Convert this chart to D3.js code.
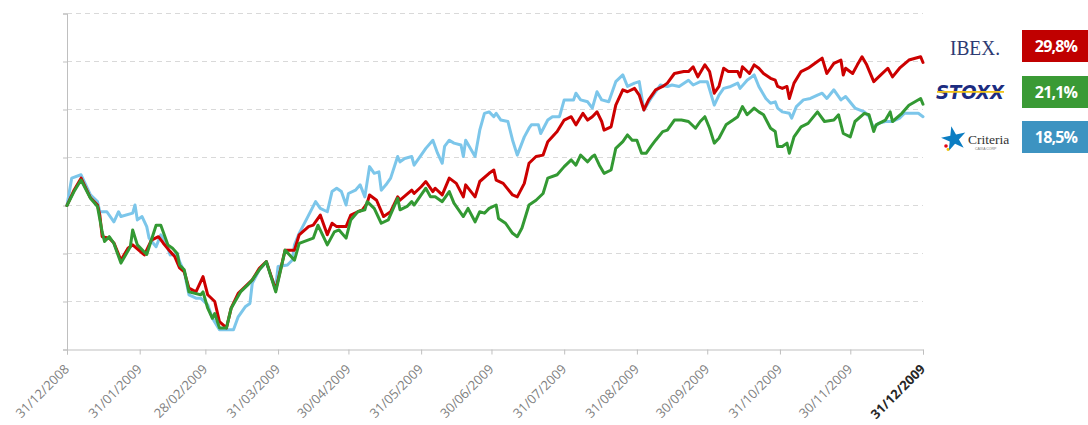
<!DOCTYPE html>
<html>
<head>
<meta charset="utf-8">
<script src="https://cdn.jsdelivr.net/npm/d3@7"></script>
<style>
  body { margin: 0; background: #fff; }
  svg { display: block; }
</style>
</head>
<body>
<svg id="chart" width="1088" height="425"></svg>
<script>
// chart layout
const W = 1088, H = 425;
const plot = {left: 67, right: 923, top: 13.5, bottom: 349.5};

// x axis tick dates (month ends)
const tickLabels = ["31/12/2008", "31/01/2009", "28/02/2009", "31/03/2009", "30/04/2009",
  "31/05/2009", "30/06/2009", "31/07/2009", "31/08/2009", "30/09/2009",
  "31/10/2009", "30/11/2009", "31/12/2009"];
const yTicks = [70, 80, 90, 100, 110, 120, 130, 140];

// legend
const legendNames = ["IBEX", "STOXX", "Criteria"];
const legendValues = ["29,8%", "21,1%", "18,5%"];

// series, base 100 at 31/12/2008
const ibex = [
  ["2008-12-31",100.0],["2009-01-03",103.2],["2009-01-06",105.7],["2009-01-10",101.6],["2009-01-13",100.1],
  ["2009-01-14",98.0],["2009-01-15",93.5],["2009-01-18",93.2],["2009-01-20",92.2],["2009-01-23",88.6],
  ["2009-01-26",91.1],["2009-01-28",91.8],["2009-02-02",89.7],["2009-02-05",92.8],["2009-02-08",93.5],
  ["2009-02-10",92.2],["2009-02-13",90.4],["2009-02-15",89.3],["2009-02-17",87.0],["2009-02-19",86.2],
  ["2009-02-21",82.8],["2009-02-24",82.0],["2009-02-27",85.2],["2009-03-01",81.4],["2009-03-04",80.0],
  ["2009-03-06",75.8],["2009-03-09",74.5],["2009-03-11",78.6],["2009-03-14",81.7],["2009-03-17",83.1],
  ["2009-03-20",84.5],["2009-03-23",86.9],["2009-03-26",88.3],["2009-03-30",82.4],["2009-04-03",90.7],
  ["2009-04-07",90.7],["2009-04-09",93.9],["2009-04-13",95.6],["2009-04-15",95.9],["2009-04-18",98.0],
  ["2009-04-21",93.9],["2009-04-23",96.3],["2009-04-25",95.6],["2009-04-29",95.6],["2009-05-01",98.0],
  ["2009-05-04",98.7],["2009-05-06",99.1],["2009-05-08",100.5],["2009-05-09",102.2],["2009-05-12",101.1],
  ["2009-05-15",97.7],["2009-05-18",98.7],["2009-05-21",101.8],["2009-05-22",101.1],["2009-05-27",103.2],
  ["2009-05-28",102.5],["2009-05-31",103.9],["2009-06-02",105.0],["2009-06-05",102.9],["2009-06-06",103.6],
  ["2009-06-09",102.2],["2009-06-12",105.7],["2009-06-15",104.6],["2009-06-18",101.8],["2009-06-19",104.3],
  ["2009-06-23",101.8],["2009-06-25",105.0],["2009-06-29",106.7],["2009-07-01",107.4],["2009-07-02",105.3],
  ["2009-07-05",104.6],["2009-07-09",102.2],["2009-07-11",101.8],["2009-07-14",104.6],["2009-07-16",108.8],
  ["2009-07-19",110.2],["2009-07-22",110.5],["2009-07-24",113.3],["2009-07-28",115.4],["2009-07-31",117.8],
  ["2009-08-03",118.5],["2009-08-05",116.8],["2009-08-08",119.2],["2009-08-10",117.8],["2009-08-12",118.5],
  ["2009-08-14",119.5],["2009-08-16",117.5],["2009-08-17",115.7],["2009-08-20",116.4],["2009-08-22",120.9],
  ["2009-08-25",124.1],["2009-08-27",123.7],["2009-08-30",124.4],["2009-09-01",123.0],["2009-09-03",119.9],
  ["2009-09-05",122.0],["2009-09-08",124.1],["2009-09-11",124.8],["2009-09-13",125.5],["2009-09-16",127.5],
  ["2009-09-20",127.9],["2009-09-22",127.9],["2009-09-24",128.9],["2009-09-26",126.8],["2009-09-29",129.3],
  ["2009-10-01",127.9],["2009-10-03",123.4],["2009-10-05",124.8],["2009-10-07",128.6],["2009-10-09",127.9],
  ["2009-10-13",127.9],["2009-10-14",126.8],["2009-10-15",128.9],["2009-10-18",127.5],["2009-10-20",129.3],
  ["2009-10-22",128.6],["2009-10-24",127.5],["2009-10-27",126.5],["2009-10-29",126.1],["2009-10-30",124.8],
  ["2009-11-01",124.4],["2009-11-03",124.8],["2009-11-04",122.3],["2009-11-06",125.5],["2009-11-09",127.9],
  ["2009-11-12",128.6],["2009-11-16",130.0],["2009-11-18",130.7],["2009-11-20",127.5],["2009-11-23",129.6],
  ["2009-11-26",130.3],["2009-11-27",127.2],["2009-11-28",128.6],["2009-12-01",127.5],["2009-12-03",129.3],
  ["2009-12-05",131.0],["2009-12-07",129.3],["2009-12-10",125.8],["2009-12-13",127.2],["2009-12-16",128.6],
  ["2009-12-18",126.8],["2009-12-21",128.6],["2009-12-25",130.3],["2009-12-30",131.0],["2009-12-31",129.8]
];

const stoxx = [
  ["2008-12-31",100.0],["2009-01-03",102.9],["2009-01-06",105.3],["2009-01-10",101.5],["2009-01-13",99.8],
  ["2009-01-15",94.5],["2009-01-16",92.5],["2009-01-18",93.5],["2009-01-20",92.1],["2009-01-23",88.0],
  ["2009-01-27",91.4],["2009-01-28",94.9],["2009-01-30",91.8],["2009-02-03",89.8],["2009-02-07",95.9],
  ["2009-02-09",95.9],["2009-02-12",91.8],["2009-02-14",91.1],["2009-02-16",90.0],["2009-02-17",87.6],
  ["2009-02-19",86.6],["2009-02-21",82.0],["2009-02-26",81.4],["2009-02-27",82.0],["2009-03-01",78.6],
  ["2009-03-03",76.5],["2009-03-04",77.5],["2009-03-06",74.5],["2009-03-09",74.5],["2009-03-11",78.6],
  ["2009-03-15",82.0],["2009-03-18",83.4],["2009-03-20",84.5],["2009-03-23",86.6],["2009-03-26",88.3],
  ["2009-03-30",82.0],["2009-04-03",90.7],["2009-04-07",88.6],["2009-04-09",92.1],["2009-04-15",93.2],
  ["2009-04-17",95.9],["2009-04-21",91.8],["2009-04-24",94.5],["2009-04-26",94.9],["2009-04-29",93.2],
  ["2009-05-01",97.0],["2009-05-04",98.7],["2009-05-07",99.1],["2009-05-08",100.8],["2009-05-11",99.4],
  ["2009-05-14",96.3],["2009-05-17",97.0],["2009-05-21",101.5],["2009-05-22",99.1],["2009-05-25",99.8],
  ["2009-05-27",100.8],["2009-05-28",100.1],["2009-06-02",103.6],["2009-06-04",101.8],["2009-06-06",101.8],
  ["2009-06-09",100.8],["2009-06-12",102.9],["2009-06-14",100.5],["2009-06-18",97.7],["2009-06-20",99.4],
  ["2009-06-23",96.6],["2009-06-25",98.7],["2009-06-27",98.4],["2009-06-29",99.4],["2009-07-02",100.1],
  ["2009-07-03",97.3],["2009-07-06",96.3],["2009-07-09",94.2],["2009-07-11",93.5],["2009-07-13",95.3],
  ["2009-07-16",100.1],["2009-07-19",101.1],["2009-07-22",102.5],["2009-07-24",105.7],["2009-07-28",106.4],
  ["2009-07-31",108.1],["2009-08-03",109.5],["2009-08-05",108.4],["2009-08-07",110.5],["2009-08-10",109.1],
  ["2009-08-12",110.2],["2009-08-13",110.5],["2009-08-15",108.4],["2009-08-17",106.7],["2009-08-20",107.4],
  ["2009-08-22",111.9],["2009-08-25",113.3],["2009-08-27",114.7],["2009-08-29",113.6],["2009-08-31",113.6],
  ["2009-09-02",110.9],["2009-09-04",110.9],["2009-09-06",112.3],["2009-09-08",113.6],["2009-09-11",115.4],
  ["2009-09-13",115.7],["2009-09-16",117.8],["2009-09-19",117.8],["2009-09-22",117.5],["2009-09-25",116.1],
  ["2009-09-27",117.5],["2009-09-29",118.5],["2009-10-01",116.1],["2009-10-03",113.0],["2009-10-05",114.0],
  ["2009-10-08",116.8],["2009-10-11",117.8],["2009-10-13",118.5],["2009-10-15",120.6],["2009-10-17",118.9],
  ["2009-10-20",120.3],["2009-10-22",119.5],["2009-10-24",118.9],["2009-10-27",116.1],["2009-10-29",115.4],
  ["2009-10-30",112.3],["2009-11-01",112.3],["2009-11-03",113.0],["2009-11-04",110.9],["2009-11-06",114.3],
  ["2009-11-09",116.4],["2009-11-12",117.1],["2009-11-16",119.5],["2009-11-19",117.5],["2009-11-23",117.8],
  ["2009-11-25",118.9],["2009-11-27",115.0],["2009-11-30",114.3],["2009-12-02",117.5],["2009-12-06",119.2],
  ["2009-12-08",118.9],["2009-12-10",115.4],["2009-12-11",116.8],["2009-12-15",117.8],["2009-12-17",119.5],
  ["2009-12-18",117.5],["2009-12-22",119.2],["2009-12-25",120.9],["2009-12-30",122.3],["2009-12-31",121.1]
];

const criteria = [
  ["2008-12-31",100.0],["2009-01-02",105.7],["2009-01-06",106.4],["2009-01-10",102.2],["2009-01-13",100.8],
  ["2009-01-14",98.7],["2009-01-17",98.7],["2009-01-20",96.6],["2009-01-22",98.7],["2009-01-23",97.7],
  ["2009-01-28",98.4],["2009-01-29",100.1],["2009-01-30",97.0],["2009-02-01",97.7],["2009-02-03",95.6],
  ["2009-02-04",93.2],["2009-02-07",91.4],["2009-02-09",93.9],["2009-02-11",92.5],["2009-02-13",89.7],
  ["2009-02-16",90.0],["2009-02-17",88.3],["2009-02-19",86.2],["2009-02-21",81.4],["2009-02-24",80.7],
  ["2009-02-26",80.7],["2009-03-01",79.3],["2009-03-03",76.5],["2009-03-06",74.1],["2009-03-09",74.1],
  ["2009-03-12",74.1],["2009-03-14",76.8],["2009-03-17",78.9],["2009-03-19",79.6],["2009-03-20",83.8],
  ["2009-03-23",86.6],["2009-03-26",88.3],["2009-03-28",85.2],["2009-03-30",83.1],["2009-03-31",87.3],
  ["2009-04-04",87.6],["2009-04-06",88.6],["2009-04-07",91.8],["2009-04-09",94.2],["2009-04-12",97.0],
  ["2009-04-16",100.8],["2009-04-18",99.4],["2009-04-21",98.7],["2009-04-23",102.9],["2009-04-25",103.6],
  ["2009-04-27",102.9],["2009-04-29",100.1],["2009-04-30",102.5],["2009-05-03",103.2],["2009-05-05",104.3],
  ["2009-05-07",101.8],["2009-05-09",108.1],["2009-05-11",106.7],["2009-05-13",107.0],["2009-05-14",103.2],
  ["2009-05-16",104.3],["2009-05-18",105.7],["2009-05-21",110.2],["2009-05-22",109.1],["2009-05-24",109.8],
  ["2009-05-27",110.2],["2009-05-28",108.4],["2009-05-31",110.5],["2009-06-02",111.9],["2009-06-05",113.6],
  ["2009-06-07",110.9],["2009-06-09",108.8],["2009-06-10",112.3],["2009-06-12",113.6],["2009-06-14",113.0],
  ["2009-06-17",112.6],["2009-06-18",110.2],["2009-06-19",113.6],["2009-06-23",110.2],["2009-06-25",115.7],
  ["2009-06-27",119.2],["2009-06-29",119.5],["2009-07-01",118.5],["2009-07-02",119.2],["2009-07-04",117.8],
  ["2009-07-07",117.5],["2009-07-09",113.6],["2009-07-11",110.5],["2009-07-14",114.3],["2009-07-16",116.1],
  ["2009-07-17",116.8],["2009-07-20",116.8],["2009-07-21",115.0],["2009-07-24",117.8],["2009-07-26",118.5],
  ["2009-07-29",118.5],["2009-07-31",122.0],["2009-08-04",122.0],["2009-08-05",123.4],["2009-08-07",122.0],
  ["2009-08-10",121.6],["2009-08-12",120.3],["2009-08-14",123.7],["2009-08-16",122.0],["2009-08-19",121.6],
  ["2009-08-22",125.8],["2009-08-25",127.2],["2009-08-27",124.8],["2009-08-30",125.5],["2009-09-01",125.8],
  ["2009-09-03",119.9],["2009-09-06",122.3],["2009-09-10",125.1],["2009-09-13",124.8],["2009-09-15",125.1],
  ["2009-09-18",124.8],["2009-09-22",126.1],["2009-09-24",125.1],["2009-09-27",125.8],["2009-09-30",125.8],
  ["2009-10-03",120.9],["2009-10-05",123.0],["2009-10-07",124.4],["2009-10-10",124.8],["2009-10-13",125.5],
  ["2009-10-14",124.4],["2009-10-17",126.1],["2009-10-19",126.8],["2009-10-20",127.2],["2009-10-22",124.8],
  ["2009-10-25",122.3],["2009-10-27",121.3],["2009-10-29",121.6],["2009-10-30",120.3],["2009-11-01",119.5],
  ["2009-11-04",119.2],["2009-11-05",118.2],["2009-11-07",120.6],["2009-11-10",122.0],["2009-11-13",122.3],
  ["2009-11-16",123.0],["2009-11-18",123.4],["2009-11-20",122.3],["2009-11-23",124.1],["2009-11-26",122.0],
  ["2009-11-28",122.7],["2009-12-02",120.3],["2009-12-06",119.5],["2009-12-08",118.5],["2009-12-10",116.1],
  ["2009-12-12",117.1],["2009-12-15",117.5],["2009-12-18",117.5],["2009-12-21",118.2],["2009-12-23",119.2],
  ["2009-12-29",119.2],["2009-12-31",118.5]
];

const parseTick = d3.timeParse("%d/%m/%Y");
const parseDay = d3.timeParse("%Y-%m-%d");

const svg = d3.select("#chart");

const x = d3.scaleTime()
    .domain([parseTick(tickLabels[0]), parseTick(tickLabels[tickLabels.length - 1])])
    .range([plot.left, plot.right]);
const y = d3.scaleLinear()
    .domain([70, 140])
    .range([plot.bottom, plot.top]);

// dashed gridlines
svg.append("g")
  .selectAll("line")
  .data(yTicks.slice(1))
  .enter()
  .append("line")
    .attr("x1", plot.left)
    .attr("x2", plot.right)
    .attr("y1", d => y(d))
    .attr("y2", d => y(d))
    .attr("stroke", "#d9d9d9")
    .attr("stroke-width", 1)
    .attr("stroke-dasharray", "5,4");

// Y axis (no labels)
const yAxis = svg.append("g")
    .attr("transform", "translate(" + plot.left + ",0)")
    .call(d3.axisLeft(y).tickValues(yTicks).tickSize(4).tickFormat(""));
yAxis.select(".domain").attr("stroke", "#bfbfbf");
yAxis.selectAll(".tick line").attr("stroke", "#bfbfbf");

// X axis
const xAxis = svg.append("g")
    .attr("transform", "translate(0," + plot.bottom + ")")
    .call(d3.axisBottom(x).tickValues(tickLabels.map(parseTick)).tickSize(5).tickFormat(""));
xAxis.select(".domain").attr("stroke", "#bfbfbf");
xAxis.selectAll(".tick line").attr("stroke", "#bfbfbf");

svg.append("g")
  .selectAll("text")
  .data(tickLabels)
  .enter()
  .append("text")
    .attr("transform", d => "translate(" + (x(parseTick(d)) + 3) + "," + 370 + ")rotate(-45)")
    .attr("text-anchor", "end")
    .attr("font-family", "'Open Sans', sans-serif")
    .attr("font-size", "13px")
    .attr("font-weight", (d, i) => i === tickLabels.length - 1 ? "bold" : "normal")
    .attr("fill", (d, i) => i === tickLabels.length - 1 ? "#262626" : "#7f7f7f")
    .text(d => d);

// lines
const line = d3.line()
    .x(d => x(parseDay(d[0])))
    .y(d => y(d[1]))
    .curve(d3.curveLinear);

const series = [
  {data: criteria, color: "#7cc6ea"},
  {data: ibex, color: "#cc0000"},
  {data: stoxx, color: "#339933"}
];
series.forEach(function(s) {
  svg.append("path")
      .datum(s.data)
      .attr("d", line)
      .attr("fill", "none")
      .attr("stroke", s.color)
      .attr("stroke-width", 3)
      .attr("stroke-linejoin", "round")
      .attr("stroke-linecap", "round");
});

// legend boxes with returns
const boxColors = ["#c00000", "#3a9a35", "#3d93c1"];
const boxTop = [30, 76, 121];
const legend = svg.append("g");
legendValues.forEach(function(v, i) {
  legend.append("rect")
      .attr("x", 1022)
      .attr("y", boxTop[i])
      .attr("width", 66)
      .attr("height", 32)
      .attr("fill", boxColors[i]);
  legend.append("text")
      .attr("x", 1056)
      .attr("y", boxTop[i] + 22)
      .attr("text-anchor", "middle")
      .attr("font-family", "'Open Sans', sans-serif")
      .attr("font-weight", "bold")
      .attr("font-size", "16px")
      .attr("letter-spacing", "-0.8")
      .attr("fill", "#fff")
      .text(v);
});

// IBEX logo
legend.append("text")
    .attr("x", 950)
    .attr("y", 55)
    .attr("font-family", "'Liberation Serif', serif")
    .attr("font-size", "20px")
    .attr("textLength", 50)
    .attr("lengthAdjust", "spacingAndGlyphs")
    .attr("fill", "#2d3a72")
    .text(legendNames[0] + ".");

// STOXX logo
legend.append("text")
    .attr("x", 936)
    .attr("y", 99)
    .attr("font-family", "'DejaVu Sans', sans-serif")
    .attr("font-weight", "bold")
    .attr("font-style", "italic")
    .attr("font-size", "19px")
    .attr("textLength", 68)
    .attr("lengthAdjust", "spacingAndGlyphs")
    .attr("fill", "#1c2c80")
    .text(legendNames[1]);
legend.append("rect")
    .attr("x", 937).attr("y", 91).attr("width", 67).attr("height", 1.8)
    .attr("fill", "#f0c419");

// Criteria logo
legend.append("path")
    .attr("d", d3.symbol().type(d3.symbolStar).size(190))
    .attr("transform", "translate(954,139)rotate(-12)")
    .attr("fill", "#0b7dc2");
legend.append("circle").attr("cx", 946).attr("cy", 146).attr("r", 1.8).attr("fill", "#e30613");
legend.append("circle").attr("cx", 948).attr("cy", 149.5).attr("r", 1.4).attr("fill", "#f6c400");
legend.append("text")
    .attr("x", 968)
    .attr("y", 144)
    .attr("font-family", "'Liberation Serif', serif")
    .attr("font-size", "13.5px")
    .attr("fill", "#333")
    .text(legendNames[2]);
legend.append("text")
    .attr("x", 975)
    .attr("y", 149.5)
    .attr("font-family", "'Liberation Sans', sans-serif")
    .attr("font-size", "3.5px")
    .attr("fill", "#777")
    .text("CAIXA CORP");
</script>
</body>
</html>
